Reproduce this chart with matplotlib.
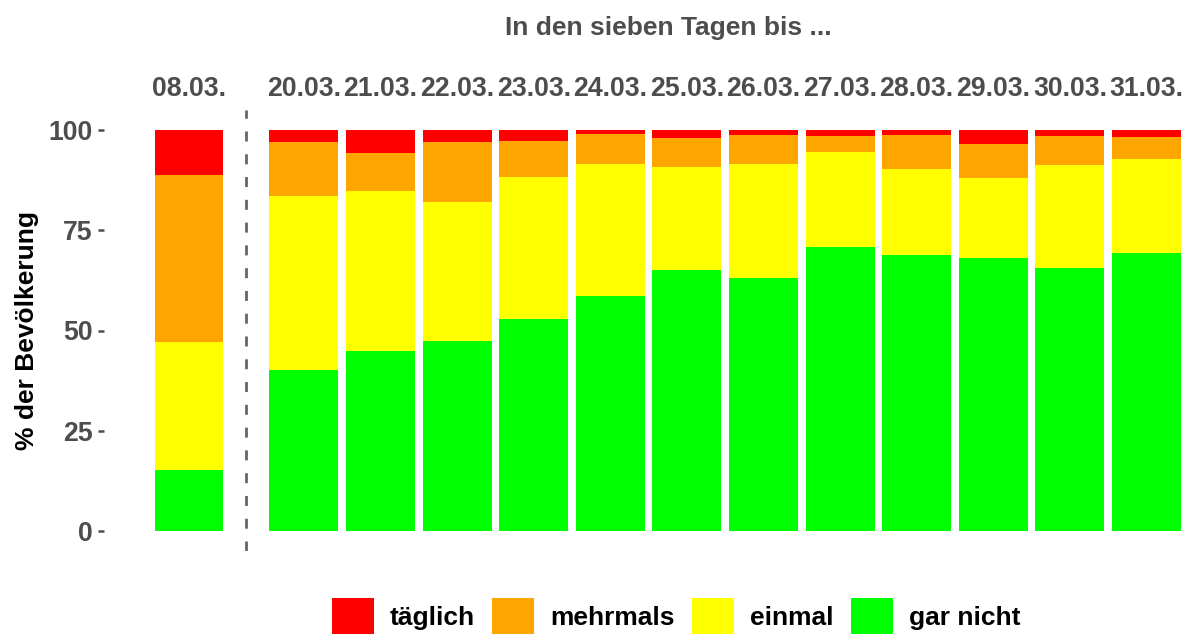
import matplotlib
matplotlib.use("Agg")
import matplotlib.pyplot as plt
from matplotlib.patches import Patch
import numpy as np

plt.rcParams['font.family'] = ['Liberation Sans', 'DejaVu Sans']
plt.rcParams['font.weight'] = 'bold'

dates = ["08.03.", "20.03.", "21.03.", "22.03.", "23.03.", "24.03.", "25.03.",
         "26.03.", "27.03.", "28.03.", "29.03.", "30.03.", "31.03."]
gar_nicht = [15.2, 40.2, 44.9, 47.4, 52.9, 58.6, 65.1, 63.1, 70.8, 68.8, 68.1, 65.6, 69.3]
einmal    = [32.0, 43.3, 39.9, 34.6, 35.4, 32.9, 25.7, 28.4, 23.7, 21.5, 19.9, 25.7, 23.5]
mehrmals  = [41.6, 13.5,  9.5, 15.0,  9.0,  7.5,  7.2,  7.3,  4.0,  8.5,  8.5,  7.2,  5.5]
taeglich  = [11.2,  3.0,  5.7,  3.0,  2.7,  1.0,  2.0,  1.2,  1.5,  1.2,  3.5,  1.5,  1.7]
series_names = ["täglich", "mehrmals", "einmal", "gar nicht"]
series_colors = ["#FF0000", "#FFA500", "#FFFF00", "#00FF00"]
title = "In den sieben Tagen bis ..."
ylabel = "% der Bevölkerung"

W, H = 1184, 635
fig = plt.figure(figsize=(W / 100, H / 100), dpi=100)
ax = fig.add_axes([104 / W, (H - 551) / H, (W - 104) / W, (551 - 110) / H])

x = np.array([0.0] + [1.5 + i for i in range(len(dates) - 1)])
stack_order = [gar_nicht, einmal, mehrmals, taeglich]
stack_colors = series_colors[::-1]
bottom = np.zeros(len(dates))
for vals, col in zip(stack_order, stack_colors):
    v = np.array(vals)
    ax.bar(x, v, bottom=bottom, width=0.9, color=col, linewidth=0)
    bottom += v

ax.axvline(0.75, color="#666666", linewidth=2, dashes=(3.6, 4.6))

ax.set_xlim(-1.11, 12.99)
ax.set_ylim(-5, 105)
for s in ax.spines.values():
    s.set_visible(False)

ax.set_yticks([0, 25, 50, 75, 100])
ax.set_yticklabels(["0", "25", "50", "75", "100"])
ax.tick_params(axis='y', length=4.5, width=1.8, color="#4d4d4d", pad=3.5,
               labelsize=19.2, labelcolor="#4d4d4d")

ax.set_xticks(x)
ax.set_xticklabels(dates)
ax.xaxis.tick_top()
ax.tick_params(axis='x', length=0, pad=5.5, labelsize=19.2, labelcolor="#4d4d4d")
for lab in ax.get_xticklabels() + ax.get_yticklabels():
    lab.set_fontweight('bold')

fig.text(668 / W, 1 - 28 / H, title, ha='center', va='center', fontsize=19,
         fontweight='bold', color="#4d4d4d")
fig.text(27 / W, 1 - 331 / H, ylabel, ha='center', va='center', rotation=90,
         fontsize=19, fontweight='bold', color="black")

handles = [Patch(facecolor=c, edgecolor='none', label=n) for n, c in zip(series_names, series_colors)]
fig.legend(handles=handles, loc='center', bbox_to_anchor=(676 / W, 1 - 616 / H), ncol=4,
           frameon=False, handlelength=1.6, handleheight=1.72,
           handletextpad=0.6, columnspacing=0.65, borderpad=0, borderaxespad=0,
           prop={'weight': 'bold', 'size': 19})

fig.savefig("out.png", dpi=100)
